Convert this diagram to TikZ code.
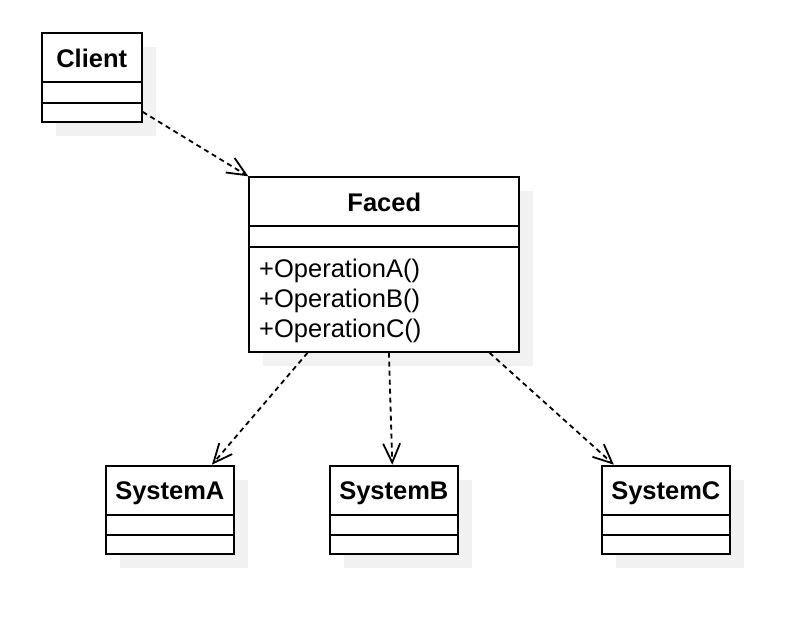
\documentclass[tikz,border=0pt]{standalone}
\usepackage{fontspec}
\setmainfont{Liberation Sans}
\usetikzlibrary{arrows.meta,calc,shadows}
\definecolor{shadowgray}{RGB}{241,241,241}
\tikzset{
  classbox/.style={draw,line width=2pt,fill=white,inner sep=0pt,minimum width=#1,
    drop shadow={shadow xshift=14pt,shadow yshift=-14pt,fill=shadowgray,opacity=1,draw=none}},
  classline/.style={line width=2pt},
  classname/.style={font=\fontsize{25.5}{30}\selectfont\bfseries,anchor=base,inner sep=0pt},
  oplist/.style={font=\fontsize{25.5}{30}\selectfont,anchor=base west,inner sep=0pt},
  depends/.style={line width=1.8pt,dash pattern=on 5pt off 4pt,
    -{Straight Barb[length=19pt,width=17pt,line width=1.8pt]}}
}
\begin{document}
\begin{tikzpicture}[x=1pt,y=-1pt] % facade classes
   \useasboundingbox (0,0) rectangle (788,620);
   \node[classbox=100,minimum height=88.4] (client) at (91.7,77.5) {};
   \node[classbox=270,minimum height=174.4] (faced) at (384.3,264.5) {};
   \foreach \n/\x in {A/169.85,B/393.85,C/665.85}
      \node[classbox=128,minimum height=88.3] (sys\n) at (\x,509.85) {};
   \foreach \c in {client,faced,sysA,sysB,sysC} {
      \draw[classline] ($(\c.north west)+(0,50)$) -- ($(\c.north east)+(0,50)$);
      \draw[classline] ($(\c.north west)+(0,70.5)$) -- ($(\c.north east)+(0,70.5)$);
   }
   \node[classname] (clientname) at ($(client.north)+(0,35)$) {Client};
   \node[classname] (facedname) at ($(faced.north)+(0,35)$) {Faced};
   \foreach \n in {A,B,C}
      \node[classname] (sys\n name) at ($(sys\n.north)+(0,35)$) {System\n};
   \foreach \op [count=\i] in {A,B,C}
      \node[oplist] (op\op) at ($(faced.north west)+(10.7,71.7+30*\i)$) {+Operation\op()};
   \draw[depends] (client.-34.5) -- (faced.north west);
   \draw[depends] (faced.-131.7) -- (sysA.47.7);
   \draw[depends] (faced.-87.8) -- (sysB.92.8);
   \draw[depends] (faced.-40) -- (sysC.139.5);
\end{tikzpicture}
\end{document}
